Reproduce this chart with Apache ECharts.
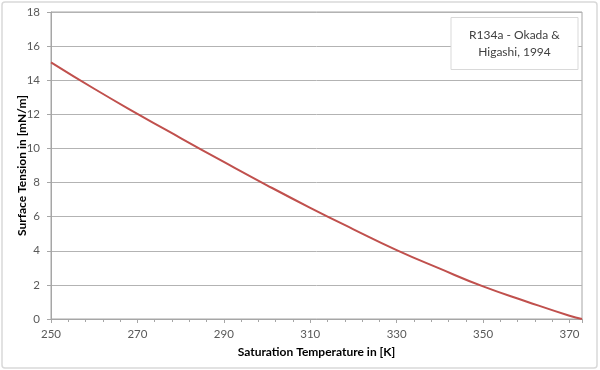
<!DOCTYPE html>
<html><head><meta charset="utf-8">
<script src="https://cdn.jsdelivr.net/npm/echarts@6/dist/echarts.min.js"></script>
<style>html,body{margin:0;padding:0;background:#fff}#c{width:600px;height:370px}</style>
</head><body><div id="c"></div>
<script>
const temperatures = [250, 260, 270, 280, 290, 300, 310, 320, 330, 340, 350, 360, 370, 372.9];
const surfaceTension = [15.05, 13.50, 12.03, 10.61, 9.21, 7.84, 6.52, 5.26, 4.04, 2.95, 1.91, 1.03, 0.19, 0];
const seriesName = 'R134a - Okada &\nHigashi, 1994';
const xTitle = 'Saturation Temperature in [K]';
const yTitle = 'Surface Tension in [mN/m]';

const chart = echarts.init(document.getElementById('c'), null, {renderer: 'canvas'});
const font = 'Lato, "Liberation Sans", sans-serif';
chart.setOption({
  animation: false,
  grid: {left: 51, right: 18, top: 12, bottom: 51, show: true, borderColor: '#a6a6a6', borderWidth: 1, backgroundColor: 'transparent'},
  xAxis: {
    type: 'value', min: 250, max: 372.9, interval: 20,
    name: xTitle, nameLocation: 'middle', nameGap: 27, nameMoveOverlap: false,
    nameTextStyle: {fontFamily: font, fontSize: 12, fontWeight: 'bold', color: '#000'},
    axisLine: {lineStyle: {color: '#a6a6a6'}},
    axisTick: {show: true, length: 4, lineStyle: {color: '#a6a6a6'}},
    minorTick: {show: true, splitNumber: 5, length: 3, lineStyle: {color: '#a6a6a6'}},
    splitLine: {show: false},
    axisLabel: {fontFamily: font, fontSize: 11.5, color: '#595959', margin: 9, showMaxLabel: false,
      formatter: v => (Math.abs(v - Math.round(v)) < 1e-6 && (Math.round(v) - 250) % 20 === 0) ? String(Math.round(v)) : ''}
  },
  yAxis: {
    type: 'value', min: 0, max: 18, interval: 2,
    name: yTitle, nameLocation: 'middle', nameGap: 23, nameRotate: 90, nameMoveOverlap: false,
    nameTextStyle: {fontFamily: font, fontSize: 12, fontWeight: 'bold', color: '#000'},
    axisLine: {show: true, lineStyle: {color: '#a6a6a6'}},
    axisTick: {show: true, length: 4, lineStyle: {color: '#a6a6a6'}},
    splitLine: {show: true, lineStyle: {color: '#b3b3b3', width: 1}},
    axisLabel: {fontFamily: font, fontSize: 11.5, color: '#595959', margin: 11}
  },
  graphic: [
    {type: 'rect', shape: {x: 2, y: 2, width: 595, height: 366, r: 3}, style: {fill: 'none', stroke: '#d9d9d9', lineWidth: 1.5}, silent: true},
    {type: 'rect', shape: {x: 451, y: 17.5, width: 127, height: 52}, style: {fill: '#fff', stroke: '#d9d9d9', lineWidth: 1}, z: 10},
    {type: 'text', x: 514.5, y: 44, z: 11, style: {text: seriesName, fontFamily: font, fontSize: 12, fill: '#404040', align: 'center', verticalAlign: 'middle', lineHeight: 17}}
  ],
  series: [{
    name: seriesName, type: 'line', smooth: true, showSymbol: false,
    lineStyle: {color: '#c0504d', width: 2},
    data: temperatures.map((t, i) => [t, surfaceTension[i]])
  }]
});
</script></body></html>
